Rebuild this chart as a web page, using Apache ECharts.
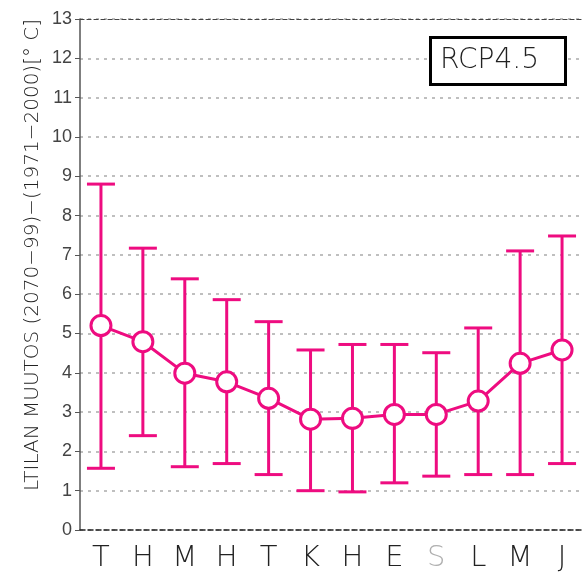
<!DOCTYPE html>
<html><head><meta charset="utf-8">
<script src="https://cdn.jsdelivr.net/npm/echarts@6/dist/echarts.min.js"></script>
<style>html,body{margin:0;padding:0;background:#fff}#c{width:583px;height:578px}</style>
</head><body><div id="c"></div>
<script>
var months = ['T','H','M','H','T','K','H','E','S','L','M','J'];
var meanChange = [5.20, 4.79, 3.99, 3.77, 3.35, 2.82, 2.84, 2.94, 2.94, 3.28, 4.24, 4.58];
var upperBound = [8.80, 7.17, 6.39, 5.86, 5.30, 4.58, 4.72, 4.72, 4.51, 5.14, 7.10, 7.48];
var lowerBound = [1.57, 2.40, 1.61, 1.69, 1.41, 1.00, 0.97, 1.20, 1.37, 1.41, 1.41, 1.69];
var yTicks = [0,1,2,3,4,5,6,7,8,9,10,11,12,13];
var yTitle = 'LTILAN MUUTOS (2070\u221299)\u2212(1971\u22122000)[\u00b0 C]';
var scenario = 'RCP4.5';

var PINK = '#ee0c80';
var chart = echarts.init(document.getElementById('c'), null, {renderer:'canvas'});
var errData = months.map(function(m,i){ return [i, lowerBound[i], upperBound[i]]; });
chart.setOption({
  animation:false,
  backgroundColor:'#fff',
  grid:{left:80, top:19, width:510, height:511},
  xAxis:[{
    type:'category', data:months, boundaryGap:true,
    axisLine:{lineStyle:{color:'#222', width:1.5, type:[5,3]}},
    axisTick:{show:false},
    axisLabel:{margin:14, fontSize:29, fontFamily:'DejaVu Sans', fontWeight:200,
      color:function(v,i){ return i===8 ? '#b0b0b0' : '#222'; }},
    splitLine:{show:false}
  },{
    type:'category', data:months, position:'top', boundaryGap:true,
    axisLine:{lineStyle:{color:'#444', width:1.2, type:[4,3]}},
    axisTick:{show:false}, axisLabel:{show:false}
  }],
  yAxis:{
    type:'value', min:0, max:13, interval:1,
    axisLine:{show:true, lineStyle:{color:'#555', width:1.5}},
    axisTick:{show:true, length:5, lineStyle:{color:'#555'}},
    axisLabel:{margin:8, fontSize:18, fontFamily:'Liberation Sans', color:'#444',
      formatter:function(v){ return yTicks.indexOf(v)>=0 ? String(v) : ''; }},
    splitLine:{show:true, lineStyle:{color:'#aaa', width:1.5, type:[3,5]}}
  },
  graphic:[
    {type:'text', x:33, y:255, rotation:Math.PI/2,
     style:{text:yTitle, font:'200 20px "DejaVu Sans"', fill:'#222', align:'center', verticalAlign:'middle'}},
    {type:'rect', shape:{x:430.5, y:37.5, width:135, height:47},
     style:{fill:'#fff', stroke:'#000', lineWidth:3}, z:10},
    {type:'text', x:440, y:61, z:11,
     style:{text:scenario, font:'200 28px "DejaVu Sans"', fill:'#222', align:'left', verticalAlign:'middle'}}
  ],
  series:[{
    type:'custom', data:errData, z:2,
    renderItem:function(params, api){
      var x = api.value(0);
      var lo = api.coord([x, api.value(1)]);
      var hi = api.coord([x, api.value(2)]);
      var hw = 14;
      var st = {stroke:PINK, lineWidth:3};
      return {type:'group', children:[
        {type:'line', shape:{x1:lo[0], y1:lo[1], x2:hi[0], y2:hi[1]}, style:st},
        {type:'line', shape:{x1:lo[0]-hw, y1:lo[1], x2:lo[0]+hw, y2:lo[1]}, style:st},
        {type:'line', shape:{x1:hi[0]-hw, y1:hi[1], x2:hi[0]+hw, y2:hi[1]}, style:st}
      ]};
    }
  },{
    type:'line', data:meanChange, z:3,
    lineStyle:{color:PINK, width:3},
    symbol:'circle', symbolSize:20, showAllSymbol:true,
    itemStyle:{color:'#fff', borderColor:PINK, borderWidth:3}
  }]
});
</script></body></html>
